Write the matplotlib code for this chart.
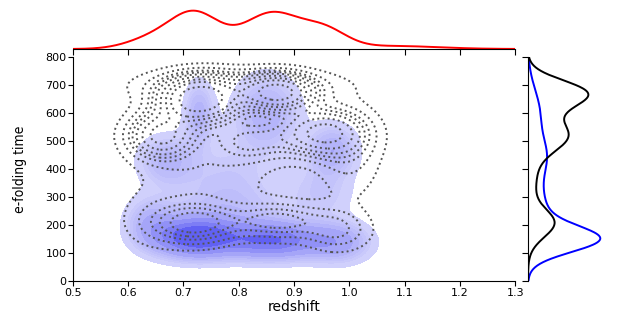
import numpy as np
import matplotlib.pyplot as plt
from matplotlib.colors import LinearSegmentedColormap

# Gaussian components (centre x, centre y, width x, width y, weight)
# filled (blue) sample
fill_x = [0.72, 0.86, 0.98, 0.64, 0.78, 0.728, 0.85, 0.97, 0.67, 0.78, 0.95]
fill_y = [155, 145, 138, 210, 240, 600, 600, 470, 430, 380, 320]
fill_sx = [0.05, 0.06, 0.04, 0.03, 0.08, 0.018, 0.04, 0.03, 0.035, 0.06, 0.04]
fill_sy = [47, 44, 48, 60, 70, 75, 90, 60, 60, 90, 70]
fill_w = [0.18, 0.17, 0.06, 0.04, 0.09, 0.035, 0.10, 0.05, 0.05, 0.07, 0.04]

# dotted (black) sample
line_x = [0.73, 0.87, 0.80, 0.66, 0.95, 0.82, 0.74, 1.0, 0.72, 0.87, 0.98, 0.64]
line_y = [645, 670, 700, 520, 530, 500, 370, 450, 205, 215, 180, 220]
line_sx = [0.045, 0.04, 0.12, 0.04, 0.05, 0.05, 0.08, 0.04, 0.05, 0.06, 0.04, 0.04]
line_sy = [50, 40, 40, 55, 55, 50, 80, 110, 50, 45, 50, 70]
line_w = [0.20, 0.12, 0.08, 0.10, 0.12, 0.05, 0.06, 0.05, 0.07, 0.06, 0.03, 0.02]

# top marginal (red) in redshift
top_x = [0.64, 0.72, 0.86, 0.955, 1.08]
top_s = [0.045, 0.045, 0.05, 0.04, 0.08]
top_w = [0.07, 0.27, 0.30, 0.12, 0.04]

x_ticks = [0.5, 0.6, 0.7, 0.8, 0.9, 1.0, 1.1, 1.2, 1.3]
y_ticks = [0, 100, 200, 300, 400, 500, 600, 700, 800]


def mix2d(X, Y, mx, my, sx, sy, w):
    z = np.zeros_like(X)
    for a, b, c, d, e in zip(mx, my, sx, sy, w):
        z += e * np.exp(-0.5 * (((X - a) / c) ** 2 + ((Y - b) / d) ** 2)) / (2 * np.pi * c * d)
    return z


def mix1d(t, m, s, w):
    z = np.zeros_like(t)
    for a, c, e in zip(m, s, w):
        z += e * np.exp(-0.5 * ((t - a) / c) ** 2) / (np.sqrt(2 * np.pi) * c)
    return z


def iso_levels(z, props):
    v = np.sort(z.ravel())
    c = np.cumsum(v)
    c /= c[-1]
    return np.interp(props, c, v)


xs = np.linspace(0.5, 1.3, 400)
ys = np.linspace(0, 800, 400)
X, Y = np.meshgrid(xs, ys)
z_fill = mix2d(X, Y, fill_x, fill_y, fill_sx, fill_sy, fill_w)
z_line = mix2d(X, Y, line_x, line_y, line_sx, line_sy, line_w)

props = np.linspace(0.05, 1, 10)[:-1]

fig = plt.figure(figsize=(6.23, 3.16), dpi=100)
ax = fig.add_axes([0.117, 0.11, 0.710, 0.71])
ax_top = fig.add_axes([0.117, 0.845, 0.710, 0.125], sharex=ax)
ax_right = fig.add_axes([0.8475, 0.11, 0.13, 0.71], sharey=ax)

cmap = LinearSegmentedColormap.from_list("b", ["#d4d4fc", "#5050f2"])
lv = iso_levels(z_fill, props)
ax.contourf(X, Y, z_fill, levels=list(lv) + [z_fill.max() * 1.01], cmap=cmap)
ax.contour(X, Y, z_line, levels=iso_levels(z_line, props), colors="#555555",
           linestyles=":", linewidths=1.4)

ax.set_xlim(0.5, 1.3)
ax.set_ylim(0, 800)
ax.set_xticks(x_ticks)
ax.set_yticks(y_ticks)
ax.tick_params(direction="out", length=3.5, pad=1.2, labelsize=8)
for s in ["top", "right"]:
    ax.spines[s].set_visible(False)
ax.set_xlabel("redshift", fontsize=10)
ax.xaxis.set_label_coords(0.5, -0.082)
ax.set_ylabel("e-folding time", fontsize=10, family="DejaVu Sans", fontstretch="condensed",
              va="center")
ax.yaxis.set_label_coords(-0.12, 0.5)

# top marginal
tx = np.linspace(0.5, 1.3, 400)
tz = mix1d(tx, top_x, top_s, top_w)
ax_top.plot(tx, tz, color="red", lw=1.4)
ax_top.set_ylim(0, tz.max() * 1.03)
for s in ["top", "right", "left"]:
    ax_top.spines[s].set_visible(False)
ax_top.tick_params(axis="x", direction="out", length=4, labelbottom=False)
ax_top.set_yticks([])

# right marginal
fy = mix1d(ys, fill_y, fill_sy, fill_w)
ly = mix1d(ys, line_y, line_sy, line_w)
ax_right.plot(fy, ys, color="blue", lw=1.4)
ax_right.plot(ly, ys, color="black", lw=1.4)
ax_right.set_xlim(0, fy.max() * 1.12)
for s in ["top", "right", "bottom"]:
    ax_right.spines[s].set_visible(False)
ax_right.tick_params(axis="y", direction="out", length=4, labelleft=False)
ax_right.set_xticks([])

fig.savefig("out.png", dpi=100)
